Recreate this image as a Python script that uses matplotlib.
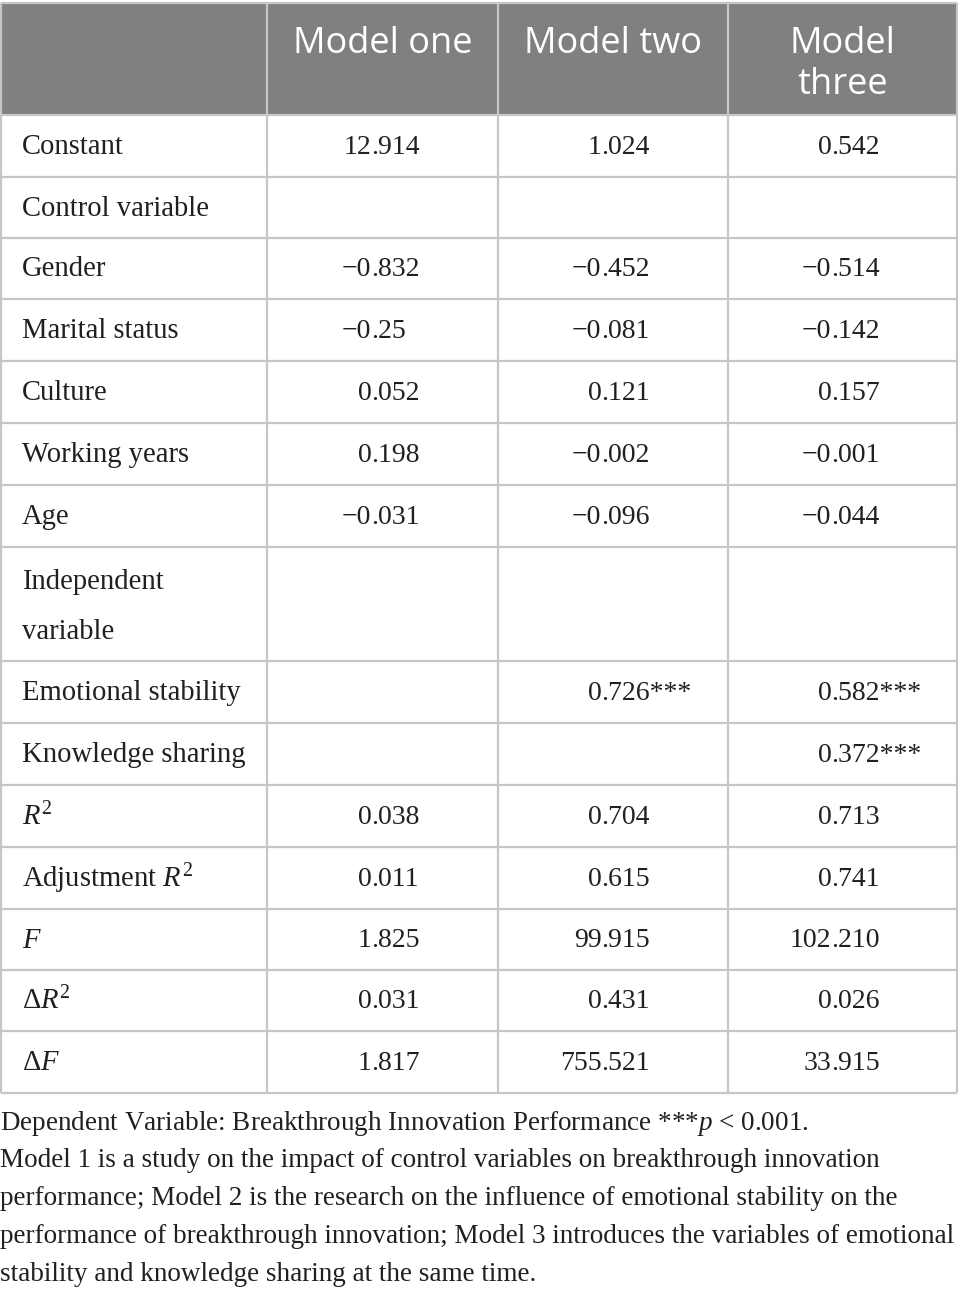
import matplotlib.pyplot as plt
from matplotlib.patches import Rectangle

plt.rcParams['mathtext.fontset'] = 'custom'
plt.rcParams['mathtext.rm'] = 'Liberation Serif'
plt.rcParams['mathtext.it'] = 'Liberation Serif:italic'

# data
headers = ['Model one', 'Model two', 'Model\nthree']
row_labels = ['Constant', 'Control variable', 'Gender', 'Marital status', 'Culture',
              'Working years', 'Age', 'Independent\nvariable', 'Emotional stability',
              'Knowledge sharing', '$R^2$', 'Adjustment $R^2$', '$F$', 'Δ$R^2$', 'Δ$F$']
model_one = ['12.914', '', '−0.832', '−0.25', '0.052', '0.198', '−0.031', '', '', '',
             '0.038', '0.011', '1.825', '0.031', '1.817']
model_two = ['1.024', '', '−0.452', '−0.081', '0.121', '−0.002', '−0.096', '', '0.726***', '',
             '0.704', '0.615', '99.915', '0.431', '755.521']
model_three = ['0.542', '', '−0.514', '−0.142', '0.157', '−0.001', '−0.044', '', '0.582***',
               '0.372***', '0.713', '0.741', '102.210', '0.026', '33.915']
notes = [
    'Dependent Variable: Breakthrough Innovation Performance ***$p$ < 0.001.',
    'Model 1 is a study on the impact of control variables on breakthrough innovation',
    'performance; Model 2 is the research on the influence of emotional stability on the',
    'performance of breakthrough innovation; Model 3 introduces the variables of emotional',
    'stability and knowledge sharing at the same time.',
]

# layout (pixels)
W, H = 958, 1295
col_edges = [1, 267, 498, 728, 957]
dec_x = [371.5, 601.5, 831.5]
head_top, head_bot = 3, 115
row_h = [62, 61, 61, 62, 62, 62, 62, 114, 62, 62, 62, 62, 61, 61, 62]
line_col = '#c6c6c6'
txt_col = '#231f20'
serif = 'Liberation Serif'
fs = 20
fs_lab = 20.6
fs_note = 19.5

fig = plt.figure(figsize=(W / 100, H / 100), dpi=100)
ax = fig.add_axes([0, 0, 1, 1])
ax.set_xlim(0, W)
ax.set_ylim(H, 0)
ax.axis('off')

# header
ax.add_patch(Rectangle((col_edges[0], head_top), col_edges[-1] - col_edges[0],
                       head_bot - head_top, color='#808080', lw=0))
for i, h in enumerate(headers):
    cx = (col_edges[i + 1] + col_edges[i + 2]) / 2
    for j, part in enumerate(h.split('\n')):
        ax.text(cx, 53 + j * 41, part, ha='center', va='baseline', color='white',
                family='Open Sans', fontsize=26)

# row boundaries
ys = [head_bot]
for rh in row_h:
    ys.append(ys[-1] + rh)

for y in [head_top] + ys:
    ax.plot([col_edges[0], col_edges[-1]], [y, y], color=line_col, lw=1.6,
            solid_capstyle='butt')
for x in col_edges:
    ax.plot([x, x], [head_top, ys[-1]], color=line_col, lw=1.6, solid_capstyle='butt')

# body
cols = [model_one, model_two, model_three]
for r, lab in enumerate(row_labels):
    top, bot = ys[r], ys[r + 1]
    cy = (top + bot) / 2 + 1
    parts = lab.split('\n')
    if len(parts) == 2:
        for j, part in enumerate(parts):
            ax.text(22, top + 35 + j * 50, part, ha='left', va='center',
                    family=serif, fontsize=fs_lab, color=txt_col)
    else:
        ax.text(22, cy, lab, ha='left', va='center', family=serif, fontsize=fs_lab,
                color=txt_col)
    for c, vals in enumerate(cols):
        v = vals[r]
        if not v:
            continue
        ip, rest = v.split('.', 1)
        ax.text(dec_x[c], cy, ip, ha='right', va='center', family=serif,
                fontsize=fs, color=txt_col)
        ax.text(dec_x[c], cy, '.' + rest, ha='left', va='center', family=serif,
                fontsize=fs, color=txt_col)

# footnote
for k, line in enumerate(notes):
    ax.text(0, 1123 + k * 37.8, line, ha='left', va='center', family=serif,
            fontsize=fs_note, color=txt_col)

fig.savefig('out.png', dpi=100)
